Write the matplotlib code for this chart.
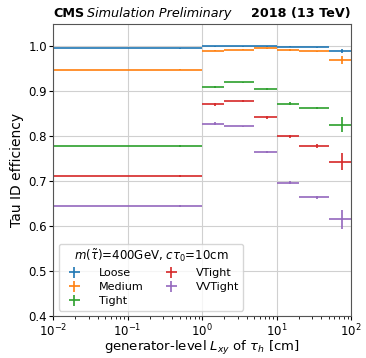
import matplotlib
matplotlib.use('Agg')
import matplotlib.pyplot as plt
import numpy as np

# L_xy bins [cm]
bin_edges = [0.01, 1, 2, 5, 10, 20, 50, 100]
bin_centers = [0.5, 1.5, 3.5, 7.5, 15, 35, 75]

wp_names = ['Loose', 'Medium', 'Tight', 'VTight', 'VVTight']
eff_loose = [0.996, 1.000, 1.000, 1.000, 0.999, 0.998, 0.990]
eff_medium = [0.948, 0.991, 0.993, 0.996, 0.993, 0.989, 0.970]
eff_tight = [0.779, 0.910, 0.920, 0.906, 0.873, 0.863, 0.826]
eff_vtight = [0.712, 0.871, 0.878, 0.842, 0.800, 0.778, 0.744]
eff_vvtight = [0.645, 0.828, 0.822, 0.765, 0.697, 0.664, 0.615]

err_loose = [0.001, 0.001, 0.001, 0.001, 0.001, 0.001, 0.004]
err_medium = [0.001, 0.002, 0.001, 0.001, 0.002, 0.002, 0.008]
err_tight = [0.002, 0.002, 0.002, 0.002, 0.003, 0.003, 0.016]
err_vtight = [0.002, 0.003, 0.002, 0.003, 0.003, 0.004, 0.020]
err_vvtight = [0.002, 0.003, 0.002, 0.003, 0.003, 0.004, 0.022]

effs = [eff_loose, eff_medium, eff_tight, eff_vtight, eff_vvtight]
errs = [err_loose, err_medium, err_tight, err_vtight, err_vvtight]
colors = ['tab:blue', 'tab:orange', 'tab:green', 'tab:red', 'tab:purple']

centers = np.array(bin_centers)
edges = np.array(bin_edges)
xerr = [centers - edges[:-1], edges[1:] - centers]

fig = plt.figure(figsize=(3.66, 3.58), dpi=100)
ax = fig.add_axes([0.145, 0.117, 0.814, 0.816])

for name, eff, err, c in zip(wp_names, effs, errs, colors):
    ax.errorbar(centers, eff, xerr=xerr, yerr=err, fmt='none', ecolor=c,
                elinewidth=1.2, label=name)

ax.set_xscale('log')
ax.set_xlim(1e-2, 1e2)
ax.set_ylim(0.4, 1.05)
ax.set_yticks([0.4, 0.5, 0.6, 0.7, 0.8, 0.9, 1.0])
ax.grid(True, color='#d0d0d0', linewidth=0.8)
ax.tick_params(which='major', labelsize=8.5, pad=1.5, length=3)
ax.tick_params(which='minor', length=1.8)
for s in ax.spines.values():
    s.set_color('#555555')

ax.set_xlabel(r'generator-level $L_{xy}$ of $\tau_h$ [cm]', fontsize=9.5, labelpad=0)
ax.set_ylabel('Tau ID efficiency', fontsize=10, labelpad=3)

ax.text(0.0, 1.012, 'CMS', transform=ax.transAxes, fontsize=9.2,
        fontweight='bold', ha='left', va='bottom')
ax.text(0.115, 1.012, 'Simulation Preliminary', transform=ax.transAxes,
        fontsize=9.2, style='italic', ha='left', va='bottom')
ax.text(1.0, 1.012, '2018 (13 TeV)', transform=ax.transAxes, fontsize=9.2,
        fontweight='bold', ha='right', va='bottom')

leg = ax.legend(loc='lower left', ncol=2, fontsize=8,
                title=r'$m(\tilde{\tau})$=400GeV, $c\tau_0$=10cm',
                title_fontsize=8.5, handletextpad=1.2, columnspacing=1.5,
                labelspacing=0.35)

fig.savefig('out.png', dpi=100)
